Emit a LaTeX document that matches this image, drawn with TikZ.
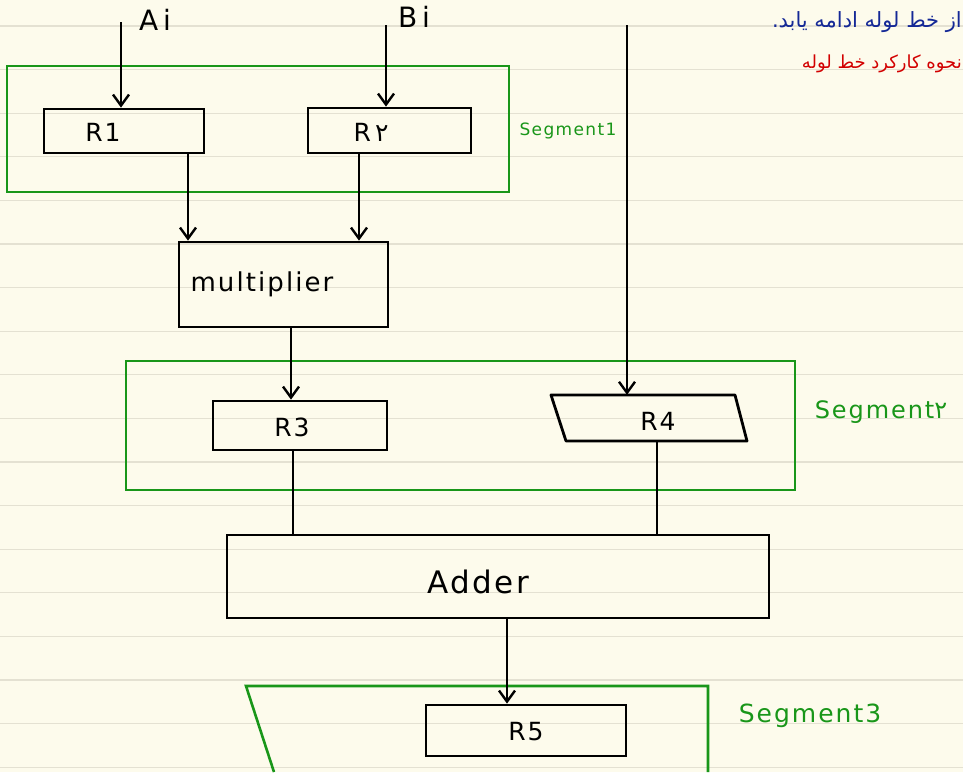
\documentclass[tikz,border=0pt]{standalone}
\usepackage{fontspec}
\setmainfont[LetterSpace=8]{DejaVu Sans}
\newfontfamily\fa[Script=Arabic]{DejaVu Sans}
\TeXXeTstate=1
\usetikzlibrary{arrows.meta}
\definecolor{paper}{RGB}{253,251,236}
\definecolor{rulec}{RGB}{228,225,210}
\definecolor{segc}{RGB}{25,150,25}
\definecolor{fablue}{RGB}{20,40,150}
\definecolor{fared}{RGB}{210,0,0}
\tikzset{
  box/.style={draw=black, line width=2.8pt, rectangle, inner sep=0pt},
  segbox/.style={draw=segc, line width=2.6pt, rectangle, inner sep=0pt},
  arr/.style={line width=2.4pt, -{Straight Barb[length=11pt,width=16pt,line width=2.4pt]}},
  wire/.style={line width=2.4pt},
  lbl/.style={inner sep=0pt, font=\fontsize{25}{28}\selectfont},
  seglbl/.style={inner sep=0pt, text=segc, font=\fontsize{24}{28}\selectfont},
}
\begin{document}
\begin{tikzpicture}[x=1pt,y=-1pt]
\useasboundingbox (0,0) rectangle (963,772);
\fill[paper] (0,0) rectangle (963,772);
\foreach \k in {0,...,17} \draw[rulec, line width=1.3pt] (0,{26+43.6*\k}) -- (963,{26+43.6*\k});

% segments
\node[segbox, minimum width=502pt, minimum height=126pt] (seg1) at (258,129) {};
\node[segbox, minimum width=669pt, minimum height=129pt] (seg2) at (460.5,425.5) {};
\draw[segc, line width=2.6pt] (274,772) -- (246,686) -- (708,686) -- (708,772);

% boxes
\node[box, minimum width=160pt, minimum height=44pt] (r1) at (124,131) {};
\node[box, minimum width=163pt, minimum height=45pt] (r2) at (389.5,130.5) {};
\node[box, minimum width=209pt, minimum height=85pt] (mul) at (283.5,284.5) {};
\node[box, minimum width=174pt, minimum height=49pt] (r3) at (300,425.5) {};
\node[inner sep=0pt, minimum width=180pt, minimum height=46pt] (r4) at (649,418) {};
\draw[black, line width=2.8pt, line join=round] (551,395) -- (735,395) -- (747,441) -- (566,441) -- cycle;
\node[box, minimum width=542pt, minimum height=83pt] (add) at (498,576.5) {};
\node[box, minimum width=200pt, minimum height=51pt] (r5) at (526,730.5) {};

% labels
\node[lbl] (t1) at (103,132) {R1};
\node[lbl] (t2) at (371,132) {R\,{\fa ۲}};
\node[lbl, font=\fontsize{26}{30}\selectfont] (tm) at (262,284) {multiplier};
\node[lbl] (t3) at (292,427) {R3};
\node[lbl] (t4) at (658,421) {R4};
\node[lbl, font=\fontsize{31}{34}\selectfont] (ta) at (478,582) {Adder};
\node[lbl] (t5) at (526,732) {R5};
\node[lbl, font=\fontsize{28}{30}\selectfont] (tai) at (155,20) {A\,i};
\node[lbl, font=\fontsize{28}{30}\selectfont] (tbi) at (414,17) {B\,i};
\node[seglbl, font=\fontsize{17}{20}\selectfont] (s1) at (568,131) {Segment1};
\node[seglbl] (s2) at (881,412) {Segment{\fa ۲}};
\node[seglbl, font=\fontsize{25}{28}\selectfont] (s3) at (810,716) {Segment3};
\node[inner sep=0pt, anchor=east, text=fablue, font=\fa\fontsize{21}{24}\selectfont] (fa1) at (962,22) {\beginR از خط لوله ادامه یابد.\endR};
\node[inner sep=0pt, anchor=east, text=fared, font=\fa\fontsize{18}{22}\selectfont] (fa2) at (962,64) {\beginR نحوه کارکرد خط لوله\endR};

% connectors
\coordinate (ain) at (121,22);
\coordinate (bin) at (386,25);
\coordinate (cin) at (627,25);
\draw[arr] (ain) -- (ain |- r1.north);
\draw[arr] (bin) -- (bin |- r2.north);
\draw[arr] ([xshift=64pt]r1.south) -- ([xshift=64pt]r1.south |- mul.north);
\draw[arr] ([xshift=-30.5pt]r2.south) -- ([xshift=-30.5pt]r2.south |- mul.north);
\draw[arr] ([xshift=7.5pt]mul.south) -- ([xshift=7.5pt]mul.south |- r3.north);
\draw[arr] (cin) -- (cin |- r4.north);
\draw[wire] ([xshift=-7pt]r3.south) -- ([xshift=-7pt]r3.south |- add.north);
\draw[wire] ([xshift=8pt]r4.south) -- ([xshift=8pt]r4.south |- add.north);
\draw[arr] ([xshift=9pt]add.south) -- ([xshift=9pt]add.south |- r5.north);
\end{tikzpicture}
\end{document}
